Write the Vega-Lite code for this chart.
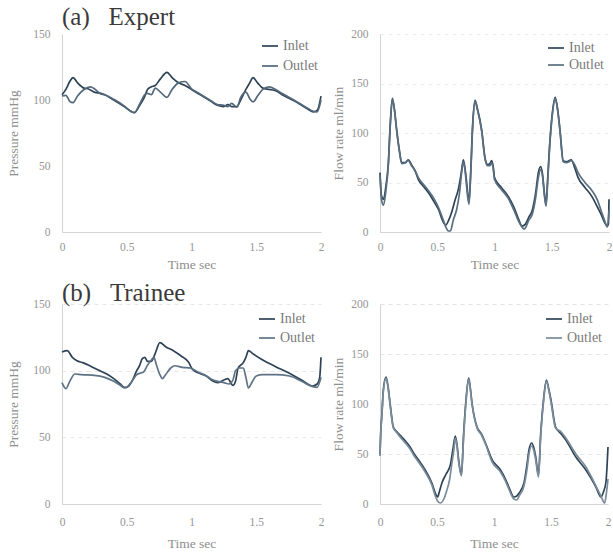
{
  "$schema": "https://vega.github.io/schema/vega-lite/v6.json",
  "background": "white",
  "padding": {"left": 6, "top": 5, "right": 0, "bottom": 0},
  "config": {
    "font": "Liberation Serif",
    "view": {"stroke": null},
    "axis": {"labelFont": "Liberation Serif", "labelFontSize": 11.5, "labelColor": "#959595", "titleFont": "Liberation Serif", "titleFontSize": 13.5, "titleColor": "#8e8e8e", "titleFontWeight": "normal", "ticks": false, "domainColor": "#d4d4d4", "grid": false, "gridColor": "#e2e2e2", "gridDash": [4, 4]},
    "axisX": {"labelPadding": 9, "titlePadding": 5, "labelFlush": false},
    "axisY": {"labelPadding": 12},
    "legend": {"orient": "top-right", "title": null, "symbolType": "stroke", "symbolSize": 256, "symbolStrokeWidth": 1.5, "labelFont": "Liberation Serif", "labelFontSize": 14, "labelColor": "#7a7a7a", "labelOffset": 4, "padding": 0},
    "title": {"font": "Liberation Serif", "fontSize": 25, "fontWeight": "normal", "color": "#3a3a3a", "anchor": "start", "baseline": "alphabetic", "frame": "group"},
    "line": {"strokeWidth": 1.7, "interpolate": "monotone"}
  },
  "datasets": {
    "ap": [
      {"t":0,"v":104,"s":"Inlet"},{"t":0.03,"v":108,"s":"Inlet"},{"t":0.06,"v":114,"s":"Inlet"},{"t":0.085,"v":117,"s":"Inlet"},{"t":0.12,"v":113,"s":"Inlet"},{"t":0.17,"v":109,"s":"Inlet"},{"t":0.2,"v":108.5,"s":"Inlet"},{"t":0.25,"v":106,"s":"Inlet"},{"t":0.3,"v":105,"s":"Inlet"},{"t":0.33,"v":104,"s":"Inlet"},{"t":0.4,"v":100,"s":"Inlet"},{"t":0.48,"v":95,"s":"Inlet"},{"t":0.54,"v":91,"s":"Inlet"},{"t":0.56,"v":90.5,"s":"Inlet"},{"t":0.6,"v":96,"s":"Inlet"},{"t":0.64,"v":103,"s":"Inlet"},{"t":0.66,"v":108,"s":"Inlet"},{"t":0.69,"v":110,"s":"Inlet"},{"t":0.72,"v":111,"s":"Inlet"},{"t":0.76,"v":116,"s":"Inlet"},{"t":0.81,"v":121,"s":"Inlet"},{"t":0.85,"v":117,"s":"Inlet"},{"t":0.9,"v":113,"s":"Inlet"},{"t":0.95,"v":111,"s":"Inlet"},{"t":1.0,"v":108,"s":"Inlet"},{"t":1.05,"v":105,"s":"Inlet"},{"t":1.1,"v":102,"s":"Inlet"},{"t":1.15,"v":99,"s":"Inlet"},{"t":1.2,"v":96,"s":"Inlet"},{"t":1.25,"v":95,"s":"Inlet"},{"t":1.28,"v":96.5,"s":"Inlet"},{"t":1.31,"v":95,"s":"Inlet"},{"t":1.35,"v":95,"s":"Inlet"},{"t":1.38,"v":100,"s":"Inlet"},{"t":1.42,"v":108,"s":"Inlet"},{"t":1.45,"v":113,"s":"Inlet"},{"t":1.475,"v":117,"s":"Inlet"},{"t":1.51,"v":113,"s":"Inlet"},{"t":1.55,"v":109,"s":"Inlet"},{"t":1.6,"v":108,"s":"Inlet"},{"t":1.65,"v":107,"s":"Inlet"},{"t":1.7,"v":104,"s":"Inlet"},{"t":1.8,"v":99,"s":"Inlet"},{"t":1.9,"v":93,"s":"Inlet"},{"t":1.94,"v":91,"s":"Inlet"},{"t":1.97,"v":92,"s":"Inlet"},{"t":2.0,"v":103,"s":"Inlet"},
      {"t":0,"v":103,"s":"Outlet"},{"t":0.03,"v":103.5,"s":"Outlet"},{"t":0.06,"v":99,"s":"Outlet"},{"t":0.085,"v":98,"s":"Outlet"},{"t":0.12,"v":103,"s":"Outlet"},{"t":0.17,"v":108,"s":"Outlet"},{"t":0.22,"v":110,"s":"Outlet"},{"t":0.25,"v":108.5,"s":"Outlet"},{"t":0.3,"v":104.5,"s":"Outlet"},{"t":0.33,"v":104,"s":"Outlet"},{"t":0.4,"v":100.5,"s":"Outlet"},{"t":0.48,"v":95.5,"s":"Outlet"},{"t":0.54,"v":91,"s":"Outlet"},{"t":0.56,"v":90.5,"s":"Outlet"},{"t":0.6,"v":97,"s":"Outlet"},{"t":0.64,"v":104,"s":"Outlet"},{"t":0.66,"v":105,"s":"Outlet"},{"t":0.69,"v":104,"s":"Outlet"},{"t":0.72,"v":109,"s":"Outlet"},{"t":0.76,"v":106,"s":"Outlet"},{"t":0.81,"v":102,"s":"Outlet"},{"t":0.85,"v":108,"s":"Outlet"},{"t":0.9,"v":113,"s":"Outlet"},{"t":0.95,"v":114,"s":"Outlet"},{"t":1.0,"v":108.5,"s":"Outlet"},{"t":1.05,"v":105.5,"s":"Outlet"},{"t":1.1,"v":102.5,"s":"Outlet"},{"t":1.15,"v":99.5,"s":"Outlet"},{"t":1.2,"v":96.5,"s":"Outlet"},{"t":1.25,"v":96,"s":"Outlet"},{"t":1.28,"v":95,"s":"Outlet"},{"t":1.31,"v":97.5,"s":"Outlet"},{"t":1.35,"v":94.5,"s":"Outlet"},{"t":1.38,"v":102,"s":"Outlet"},{"t":1.42,"v":106,"s":"Outlet"},{"t":1.45,"v":101,"s":"Outlet"},{"t":1.475,"v":98.5,"s":"Outlet"},{"t":1.51,"v":103,"s":"Outlet"},{"t":1.55,"v":108,"s":"Outlet"},{"t":1.6,"v":110,"s":"Outlet"},{"t":1.65,"v":108,"s":"Outlet"},{"t":1.7,"v":105,"s":"Outlet"},{"t":1.8,"v":99.5,"s":"Outlet"},{"t":1.9,"v":93.5,"s":"Outlet"},{"t":1.94,"v":91.5,"s":"Outlet"},{"t":1.97,"v":91,"s":"Outlet"},{"t":2.0,"v":100,"s":"Outlet"}
    ],
    "aq": [
      {"t":0,"v":60,"s":"Inlet"},{"t":0.014,"v":36,"s":"Inlet"},{"t":0.03,"v":33,"s":"Inlet"},{"t":0.05,"v":45,"s":"Inlet"},{"t":0.073,"v":70,"s":"Inlet"},{"t":0.09,"v":110,"s":"Inlet"},{"t":0.108,"v":135,"s":"Inlet"},{"t":0.125,"v":125,"s":"Inlet"},{"t":0.146,"v":103,"s":"Inlet"},{"t":0.17,"v":82,"s":"Inlet"},{"t":0.19,"v":70,"s":"Inlet"},{"t":0.22,"v":70,"s":"Inlet"},{"t":0.247,"v":73,"s":"Inlet"},{"t":0.275,"v":68,"s":"Inlet"},{"t":0.306,"v":62,"s":"Inlet"},{"t":0.335,"v":53,"s":"Inlet"},{"t":0.38,"v":46,"s":"Inlet"},{"t":0.422,"v":40,"s":"Inlet"},{"t":0.47,"v":31,"s":"Inlet"},{"t":0.51,"v":23,"s":"Inlet"},{"t":0.553,"v":10,"s":"Inlet"},{"t":0.575,"v":7,"s":"Inlet"},{"t":0.6,"v":12,"s":"Inlet"},{"t":0.626,"v":20,"s":"Inlet"},{"t":0.655,"v":32,"s":"Inlet"},{"t":0.684,"v":43,"s":"Inlet"},{"t":0.71,"v":60,"s":"Inlet"},{"t":0.728,"v":73,"s":"Inlet"},{"t":0.745,"v":62,"s":"Inlet"},{"t":0.757,"v":50,"s":"Inlet"},{"t":0.777,"v":30,"s":"Inlet"},{"t":0.79,"v":55,"s":"Inlet"},{"t":0.81,"v":110,"s":"Inlet"},{"t":0.83,"v":133,"s":"Inlet"},{"t":0.85,"v":125,"s":"Inlet"},{"t":0.888,"v":103,"s":"Inlet"},{"t":0.917,"v":75,"s":"Inlet"},{"t":0.94,"v":68,"s":"Inlet"},{"t":0.96,"v":69,"s":"Inlet"},{"t":0.975,"v":72,"s":"Inlet"},{"t":0.99,"v":65,"s":"Inlet"},{"t":1.0,"v":55,"s":"Inlet"},{"t":1.06,"v":45,"s":"Inlet"},{"t":1.12,"v":36,"s":"Inlet"},{"t":1.17,"v":25,"s":"Inlet"},{"t":1.21,"v":13,"s":"Inlet"},{"t":1.24,"v":6,"s":"Inlet"},{"t":1.27,"v":8,"s":"Inlet"},{"t":1.3,"v":15,"s":"Inlet"},{"t":1.33,"v":22,"s":"Inlet"},{"t":1.36,"v":40,"s":"Inlet"},{"t":1.383,"v":60,"s":"Inlet"},{"t":1.403,"v":66,"s":"Inlet"},{"t":1.42,"v":58,"s":"Inlet"},{"t":1.435,"v":40,"s":"Inlet"},{"t":1.45,"v":28,"s":"Inlet"},{"t":1.465,"v":55,"s":"Inlet"},{"t":1.48,"v":85,"s":"Inlet"},{"t":1.505,"v":120,"s":"Inlet"},{"t":1.53,"v":136,"s":"Inlet"},{"t":1.55,"v":125,"s":"Inlet"},{"t":1.572,"v":103,"s":"Inlet"},{"t":1.6,"v":72,"s":"Inlet"},{"t":1.63,"v":71,"s":"Inlet"},{"t":1.67,"v":73,"s":"Inlet"},{"t":1.7,"v":65,"s":"Inlet"},{"t":1.73,"v":55,"s":"Inlet"},{"t":1.79,"v":45,"s":"Inlet"},{"t":1.85,"v":36,"s":"Inlet"},{"t":1.9,"v":25,"s":"Inlet"},{"t":1.93,"v":18,"s":"Inlet"},{"t":1.96,"v":10,"s":"Inlet"},{"t":1.985,"v":6,"s":"Inlet"},{"t":1.995,"v":8,"s":"Inlet"},{"t":2.0,"v":33,"s":"Inlet"},
      {"t":0,"v":58,"s":"Outlet"},{"t":0.014,"v":32,"s":"Outlet"},{"t":0.03,"v":27,"s":"Outlet"},{"t":0.05,"v":40,"s":"Outlet"},{"t":0.073,"v":68,"s":"Outlet"},{"t":0.09,"v":108,"s":"Outlet"},{"t":0.108,"v":134,"s":"Outlet"},{"t":0.125,"v":124,"s":"Outlet"},{"t":0.146,"v":102,"s":"Outlet"},{"t":0.17,"v":81,"s":"Outlet"},{"t":0.19,"v":69,"s":"Outlet"},{"t":0.22,"v":70,"s":"Outlet"},{"t":0.247,"v":72,"s":"Outlet"},{"t":0.275,"v":67,"s":"Outlet"},{"t":0.306,"v":62,"s":"Outlet"},{"t":0.335,"v":55,"s":"Outlet"},{"t":0.38,"v":48,"s":"Outlet"},{"t":0.422,"v":42,"s":"Outlet"},{"t":0.47,"v":34,"s":"Outlet"},{"t":0.51,"v":25,"s":"Outlet"},{"t":0.553,"v":12,"s":"Outlet"},{"t":0.575,"v":5,"s":"Outlet"},{"t":0.6,"v":1,"s":"Outlet"},{"t":0.615,"v":1,"s":"Outlet"},{"t":0.64,"v":12,"s":"Outlet"},{"t":0.67,"v":23,"s":"Outlet"},{"t":0.695,"v":40,"s":"Outlet"},{"t":0.713,"v":60,"s":"Outlet"},{"t":0.728,"v":71,"s":"Outlet"},{"t":0.745,"v":60,"s":"Outlet"},{"t":0.757,"v":45,"s":"Outlet"},{"t":0.777,"v":28,"s":"Outlet"},{"t":0.79,"v":52,"s":"Outlet"},{"t":0.81,"v":108,"s":"Outlet"},{"t":0.83,"v":132,"s":"Outlet"},{"t":0.85,"v":124,"s":"Outlet"},{"t":0.888,"v":102,"s":"Outlet"},{"t":0.917,"v":74,"s":"Outlet"},{"t":0.94,"v":67,"s":"Outlet"},{"t":0.96,"v":67,"s":"Outlet"},{"t":0.975,"v":70,"s":"Outlet"},{"t":0.99,"v":63,"s":"Outlet"},{"t":1.0,"v":53,"s":"Outlet"},{"t":1.06,"v":43,"s":"Outlet"},{"t":1.12,"v":34,"s":"Outlet"},{"t":1.17,"v":22,"s":"Outlet"},{"t":1.21,"v":11,"s":"Outlet"},{"t":1.24,"v":5,"s":"Outlet"},{"t":1.26,"v":3,"s":"Outlet"},{"t":1.3,"v":12,"s":"Outlet"},{"t":1.33,"v":18,"s":"Outlet"},{"t":1.36,"v":35,"s":"Outlet"},{"t":1.383,"v":55,"s":"Outlet"},{"t":1.403,"v":63,"s":"Outlet"},{"t":1.42,"v":56,"s":"Outlet"},{"t":1.435,"v":38,"s":"Outlet"},{"t":1.45,"v":26,"s":"Outlet"},{"t":1.465,"v":52,"s":"Outlet"},{"t":1.48,"v":83,"s":"Outlet"},{"t":1.505,"v":118,"s":"Outlet"},{"t":1.53,"v":135,"s":"Outlet"},{"t":1.55,"v":124,"s":"Outlet"},{"t":1.572,"v":102,"s":"Outlet"},{"t":1.6,"v":71,"s":"Outlet"},{"t":1.63,"v":70,"s":"Outlet"},{"t":1.67,"v":72,"s":"Outlet"},{"t":1.7,"v":68,"s":"Outlet"},{"t":1.73,"v":60,"s":"Outlet"},{"t":1.79,"v":50,"s":"Outlet"},{"t":1.85,"v":42,"s":"Outlet"},{"t":1.9,"v":32,"s":"Outlet"},{"t":1.93,"v":22,"s":"Outlet"},{"t":1.96,"v":12,"s":"Outlet"},{"t":1.985,"v":5,"s":"Outlet"},{"t":2.0,"v":22,"s":"Outlet"}
    ],
    "bp": [
      {"t":0,"v":114,"s":"Inlet"},{"t":0.04,"v":115,"s":"Inlet"},{"t":0.08,"v":110,"s":"Inlet"},{"t":0.115,"v":107.5,"s":"Inlet"},{"t":0.16,"v":106,"s":"Inlet"},{"t":0.218,"v":103.5,"s":"Inlet"},{"t":0.28,"v":100.5,"s":"Inlet"},{"t":0.346,"v":97.5,"s":"Inlet"},{"t":0.4,"v":94,"s":"Inlet"},{"t":0.45,"v":90,"s":"Inlet"},{"t":0.48,"v":87.5,"s":"Inlet"},{"t":0.5,"v":87.5,"s":"Inlet"},{"t":0.54,"v":92,"s":"Inlet"},{"t":0.577,"v":100,"s":"Inlet"},{"t":0.6,"v":104,"s":"Inlet"},{"t":0.62,"v":109,"s":"Inlet"},{"t":0.64,"v":110,"s":"Inlet"},{"t":0.66,"v":107,"s":"Inlet"},{"t":0.69,"v":107,"s":"Inlet"},{"t":0.72,"v":113,"s":"Inlet"},{"t":0.756,"v":121,"s":"Inlet"},{"t":0.8,"v":118,"s":"Inlet"},{"t":0.86,"v":115,"s":"Inlet"},{"t":0.92,"v":111,"s":"Inlet"},{"t":0.98,"v":106,"s":"Inlet"},{"t":1.0,"v":102,"s":"Inlet"},{"t":1.02,"v":100,"s":"Inlet"},{"t":1.06,"v":98,"s":"Inlet"},{"t":1.115,"v":96,"s":"Inlet"},{"t":1.167,"v":92,"s":"Inlet"},{"t":1.2,"v":91,"s":"Inlet"},{"t":1.25,"v":93,"s":"Inlet"},{"t":1.28,"v":94,"s":"Inlet"},{"t":1.32,"v":89,"s":"Inlet"},{"t":1.34,"v":92,"s":"Inlet"},{"t":1.36,"v":102,"s":"Inlet"},{"t":1.4,"v":106,"s":"Inlet"},{"t":1.42,"v":110,"s":"Inlet"},{"t":1.44,"v":115,"s":"Inlet"},{"t":1.47,"v":113,"s":"Inlet"},{"t":1.55,"v":108,"s":"Inlet"},{"t":1.65,"v":103,"s":"Inlet"},{"t":1.756,"v":98,"s":"Inlet"},{"t":1.85,"v":93,"s":"Inlet"},{"t":1.936,"v":88.5,"s":"Inlet"},{"t":1.97,"v":90,"s":"Inlet"},{"t":1.99,"v":95,"s":"Inlet"},{"t":2.0,"v":110,"s":"Inlet"},
      {"t":0,"v":91,"s":"Outlet"},{"t":0.03,"v":86.5,"s":"Outlet"},{"t":0.06,"v":92,"s":"Outlet"},{"t":0.1,"v":97.5,"s":"Outlet"},{"t":0.15,"v":97,"s":"Outlet"},{"t":0.25,"v":96.5,"s":"Outlet"},{"t":0.33,"v":95,"s":"Outlet"},{"t":0.4,"v":92,"s":"Outlet"},{"t":0.45,"v":89,"s":"Outlet"},{"t":0.48,"v":87,"s":"Outlet"},{"t":0.5,"v":87.5,"s":"Outlet"},{"t":0.54,"v":92,"s":"Outlet"},{"t":0.577,"v":97,"s":"Outlet"},{"t":0.6,"v":98,"s":"Outlet"},{"t":0.63,"v":99,"s":"Outlet"},{"t":0.66,"v":104,"s":"Outlet"},{"t":0.69,"v":108,"s":"Outlet"},{"t":0.71,"v":110,"s":"Outlet"},{"t":0.73,"v":104,"s":"Outlet"},{"t":0.756,"v":97,"s":"Outlet"},{"t":0.775,"v":94,"s":"Outlet"},{"t":0.8,"v":97,"s":"Outlet"},{"t":0.84,"v":102,"s":"Outlet"},{"t":0.87,"v":103.7,"s":"Outlet"},{"t":0.93,"v":102.5,"s":"Outlet"},{"t":0.99,"v":102,"s":"Outlet"},{"t":1.05,"v":99,"s":"Outlet"},{"t":1.115,"v":96,"s":"Outlet"},{"t":1.167,"v":93,"s":"Outlet"},{"t":1.2,"v":92,"s":"Outlet"},{"t":1.25,"v":91,"s":"Outlet"},{"t":1.29,"v":90,"s":"Outlet"},{"t":1.32,"v":93,"s":"Outlet"},{"t":1.34,"v":100,"s":"Outlet"},{"t":1.37,"v":102,"s":"Outlet"},{"t":1.4,"v":102,"s":"Outlet"},{"t":1.42,"v":95,"s":"Outlet"},{"t":1.44,"v":87,"s":"Outlet"},{"t":1.46,"v":90,"s":"Outlet"},{"t":1.5,"v":96,"s":"Outlet"},{"t":1.55,"v":97,"s":"Outlet"},{"t":1.65,"v":97,"s":"Outlet"},{"t":1.756,"v":96,"s":"Outlet"},{"t":1.85,"v":92,"s":"Outlet"},{"t":1.936,"v":88,"s":"Outlet"},{"t":1.97,"v":87.5,"s":"Outlet"},{"t":2.0,"v":95,"s":"Outlet"}
    ],
    "bq": [
      {"t":0,"v":50,"s":"Inlet"},{"t":0.008,"v":76,"s":"Inlet"},{"t":0.015,"v":87,"s":"Inlet"},{"t":0.029,"v":114,"s":"Inlet"},{"t":0.053,"v":127,"s":"Inlet"},{"t":0.07,"v":118,"s":"Inlet"},{"t":0.088,"v":101,"s":"Inlet"},{"t":0.117,"v":77,"s":"Inlet"},{"t":0.15,"v":72,"s":"Inlet"},{"t":0.191,"v":67,"s":"Inlet"},{"t":0.23,"v":62,"s":"Inlet"},{"t":0.264,"v":57,"s":"Inlet"},{"t":0.3,"v":50,"s":"Inlet"},{"t":0.338,"v":44,"s":"Inlet"},{"t":0.396,"v":34,"s":"Inlet"},{"t":0.455,"v":21,"s":"Inlet"},{"t":0.485,"v":11,"s":"Inlet"},{"t":0.505,"v":7,"s":"Inlet"},{"t":0.52,"v":12,"s":"Inlet"},{"t":0.543,"v":21,"s":"Inlet"},{"t":0.58,"v":30,"s":"Inlet"},{"t":0.617,"v":39,"s":"Inlet"},{"t":0.64,"v":55,"s":"Inlet"},{"t":0.66,"v":68,"s":"Inlet"},{"t":0.675,"v":60,"s":"Inlet"},{"t":0.69,"v":44,"s":"Inlet"},{"t":0.714,"v":29,"s":"Inlet"},{"t":0.734,"v":71,"s":"Inlet"},{"t":0.755,"v":105,"s":"Inlet"},{"t":0.778,"v":126,"s":"Inlet"},{"t":0.79,"v":118,"s":"Inlet"},{"t":0.807,"v":101,"s":"Inlet"},{"t":0.851,"v":77,"s":"Inlet"},{"t":0.89,"v":70,"s":"Inlet"},{"t":0.925,"v":61,"s":"Inlet"},{"t":0.984,"v":44,"s":"Inlet"},{"t":1.057,"v":34,"s":"Inlet"},{"t":1.1,"v":25,"s":"Inlet"},{"t":1.13,"v":17,"s":"Inlet"},{"t":1.175,"v":7,"s":"Inlet"},{"t":1.2,"v":8,"s":"Inlet"},{"t":1.22,"v":11,"s":"Inlet"},{"t":1.263,"v":21,"s":"Inlet"},{"t":1.29,"v":40,"s":"Inlet"},{"t":1.307,"v":54,"s":"Inlet"},{"t":1.33,"v":61,"s":"Inlet"},{"t":1.35,"v":56,"s":"Inlet"},{"t":1.366,"v":47,"s":"Inlet"},{"t":1.39,"v":29,"s":"Inlet"},{"t":1.41,"v":71,"s":"Inlet"},{"t":1.435,"v":105,"s":"Inlet"},{"t":1.46,"v":124,"s":"Inlet"},{"t":1.48,"v":115,"s":"Inlet"},{"t":1.5,"v":104,"s":"Inlet"},{"t":1.54,"v":77,"s":"Inlet"},{"t":1.59,"v":70,"s":"Inlet"},{"t":1.63,"v":64,"s":"Inlet"},{"t":1.718,"v":47,"s":"Inlet"},{"t":1.806,"v":34,"s":"Inlet"},{"t":1.85,"v":26,"s":"Inlet"},{"t":1.894,"v":17,"s":"Inlet"},{"t":1.938,"v":7,"s":"Inlet"},{"t":1.96,"v":12,"s":"Inlet"},{"t":1.982,"v":22,"s":"Inlet"},{"t":2.0,"v":57,"s":"Inlet"},
      {"t":0,"v":48,"s":"Outlet"},{"t":0.008,"v":74,"s":"Outlet"},{"t":0.015,"v":85,"s":"Outlet"},{"t":0.029,"v":112,"s":"Outlet"},{"t":0.053,"v":126,"s":"Outlet"},{"t":0.07,"v":117,"s":"Outlet"},{"t":0.088,"v":100,"s":"Outlet"},{"t":0.117,"v":76,"s":"Outlet"},{"t":0.15,"v":71,"s":"Outlet"},{"t":0.191,"v":65,"s":"Outlet"},{"t":0.23,"v":60,"s":"Outlet"},{"t":0.264,"v":55,"s":"Outlet"},{"t":0.3,"v":48,"s":"Outlet"},{"t":0.338,"v":42,"s":"Outlet"},{"t":0.396,"v":32,"s":"Outlet"},{"t":0.455,"v":19,"s":"Outlet"},{"t":0.485,"v":8,"s":"Outlet"},{"t":0.505,"v":3,"s":"Outlet"},{"t":0.529,"v":1,"s":"Outlet"},{"t":0.56,"v":5,"s":"Outlet"},{"t":0.587,"v":14,"s":"Outlet"},{"t":0.61,"v":24,"s":"Outlet"},{"t":0.63,"v":40,"s":"Outlet"},{"t":0.648,"v":54,"s":"Outlet"},{"t":0.66,"v":66,"s":"Outlet"},{"t":0.675,"v":58,"s":"Outlet"},{"t":0.69,"v":42,"s":"Outlet"},{"t":0.714,"v":28,"s":"Outlet"},{"t":0.734,"v":68,"s":"Outlet"},{"t":0.755,"v":103,"s":"Outlet"},{"t":0.778,"v":125,"s":"Outlet"},{"t":0.79,"v":117,"s":"Outlet"},{"t":0.807,"v":100,"s":"Outlet"},{"t":0.851,"v":76,"s":"Outlet"},{"t":0.89,"v":69,"s":"Outlet"},{"t":0.925,"v":60,"s":"Outlet"},{"t":0.984,"v":42,"s":"Outlet"},{"t":1.057,"v":32,"s":"Outlet"},{"t":1.1,"v":23,"s":"Outlet"},{"t":1.13,"v":15,"s":"Outlet"},{"t":1.175,"v":5,"s":"Outlet"},{"t":1.2,"v":4,"s":"Outlet"},{"t":1.22,"v":8,"s":"Outlet"},{"t":1.263,"v":18,"s":"Outlet"},{"t":1.29,"v":35,"s":"Outlet"},{"t":1.307,"v":50,"s":"Outlet"},{"t":1.33,"v":58,"s":"Outlet"},{"t":1.35,"v":53,"s":"Outlet"},{"t":1.366,"v":44,"s":"Outlet"},{"t":1.39,"v":27,"s":"Outlet"},{"t":1.41,"v":68,"s":"Outlet"},{"t":1.435,"v":103,"s":"Outlet"},{"t":1.46,"v":123,"s":"Outlet"},{"t":1.48,"v":114,"s":"Outlet"},{"t":1.5,"v":102,"s":"Outlet"},{"t":1.54,"v":76,"s":"Outlet"},{"t":1.59,"v":72,"s":"Outlet"},{"t":1.63,"v":66,"s":"Outlet"},{"t":1.718,"v":50,"s":"Outlet"},{"t":1.806,"v":37,"s":"Outlet"},{"t":1.85,"v":28,"s":"Outlet"},{"t":1.894,"v":18,"s":"Outlet"},{"t":1.938,"v":8,"s":"Outlet"},{"t":1.97,"v":1,"s":"Outlet"},{"t":1.985,"v":10,"s":"Outlet"},{"t":2.0,"v":25,"s":"Outlet"}
    ]
  },
  "columns": 2,
  "spacing": {"row": 72, "column": 59},
  "bounds": "flush",
  "resolve": {"scale": {"color": "independent"}, "legend": {"color": "independent"}},
  "concat": [
    {
      "width": 259, "height": 198,
      "title": {"text": "(a)\u00a0\u00a0\u00a0Expert", "offset": -2},
      "data": {"name": "ap"},
      "mark": {"type": "line"},
      "encoding": {
        "x": {"field": "t", "type": "quantitative", "scale": {"domain": [0, 2]}, "axis": {"values": [0, 0.5, 1, 1.5, 2], "format": "~g", "title": "Time sec"}},
        "y": {"field": "v", "type": "quantitative", "scale": {"domain": [0, 150]}, "axis": {"values": [0, 50, 100, 150], "title": "Pressure mmHg", "titleX": -42}},
        "color": {"field": "s", "type": "nominal", "scale": {"domain": ["Inlet", "Outlet"], "range": ["#2f4357", "#53687a"]}, "legend": {"offset": 3, "rowPadding": 4}}
      }
    },
    {
      "width": 229, "height": 198,
      "data": {"name": "aq"},
      "mark": {"type": "line"},
      "encoding": {
        "x": {"field": "t", "type": "quantitative", "scale": {"domain": [0, 2]}, "axis": {"values": [0, 0.5, 1, 1.5, 2], "format": "~g", "title": "Time sec"}},
        "y": {"field": "v", "type": "quantitative", "scale": {"domain": [0, 200]}, "axis": {"values": [0, 50, 100, 150, 200], "title": "Flow rate ml/min", "titleX": -35, "grid": true, "gridColor": "#ececec"}},
        "color": {"field": "s", "type": "nominal", "scale": {"domain": ["Inlet", "Outlet"], "range": ["#2f4357", "#5a6f80"]}, "legend": {"offset": 5, "rowPadding": 1}}
      }
    },
    {
      "width": 259, "height": 200,
      "title": {"text": "(b)\u00a0\u00a0\u00a0Trainee", "offset": -8},
      "data": {"name": "bp"},
      "mark": {"type": "line"},
      "encoding": {
        "x": {"field": "t", "type": "quantitative", "scale": {"domain": [0, 2]}, "axis": {"values": [0, 0.5, 1, 1.5, 2], "format": "~g", "title": "Time sec", "labelPadding": 12, "titlePadding": 9}},
        "y": {"field": "v", "type": "quantitative", "scale": {"domain": [0, 150]}, "axis": {"values": [0, 50, 100, 150], "title": "Pressure mmHg", "titleX": -42, "grid": true, "gridColor": "#e8e8e8"}},
        "color": {"field": "s", "type": "nominal", "scale": {"domain": ["Inlet", "Outlet"], "range": ["#2f4357", "#5f7385"]}, "legend": {"offset": 6, "rowPadding": 3}}
      }
    },
    {
      "width": 228, "height": 200,
      "data": {"name": "bq"},
      "mark": {"type": "line"},
      "encoding": {
        "x": {"field": "t", "type": "quantitative", "scale": {"domain": [0, 2]}, "axis": {"values": [0, 0.5, 1, 1.5, 2], "format": "~g", "title": "Time sec", "labelPadding": 12, "titlePadding": 9}},
        "y": {"field": "v", "type": "quantitative", "scale": {"domain": [0, 200]}, "axis": {"values": [0, 50, 100, 150, 200], "title": "Flow rate ml/min", "titleX": -35, "grid": true, "gridColor": "#e4e4e4"}},
        "color": {"field": "s", "type": "nominal", "scale": {"domain": ["Inlet", "Outlet"], "range": ["#2f4357", "#7a8c9a"]}, "legend": {"offset": 6, "rowPadding": 3}}
      }
    }
  ]
}
